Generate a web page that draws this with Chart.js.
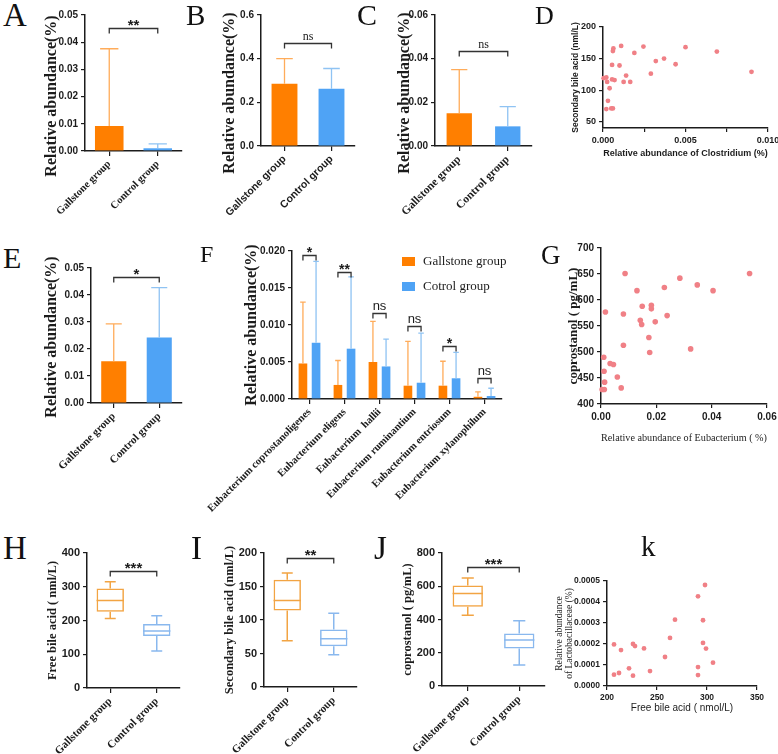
<!DOCTYPE html>
<html>
<head>
<meta charset="utf-8">
<script src="https://cdn.jsdelivr.net/npm/chart.js"></script>
<style>
  body { margin: 0; background: #fff; }
  #fig { position: relative; width: 778px; height: 754px; overflow: hidden; background: #fff; }
  #fig canvas { position: absolute; }
  .tag { position: absolute; font-family: "Liberation Serif", "Times New Roman", serif; line-height: 1; color: #111; }
</style>
</head>
<body>
<div id="fig"></div>
<script>
// ---- data ----
const groups = ["Gallstone group", "Control group"];

// A, B, C, E: bar + SD
const aMean = [0.0092, 0.0010];
const aErr = [0.0376, 0.0026];
const aTicks = [0, 0.01, 0.02, 0.03, 0.04, 0.05];
const aTickLabels = ["0.00", "0.01", "0.02", "0.03", "0.04", "0.05"];

const bMean = [0.285, 0.262];
const bErr = [0.400, 0.355];
const bTicks = [0, 0.2, 0.4, 0.6];
const bTickLabels = ["0.0", "0.2", "0.4", "0.6"];

const cMean = [0.015, 0.009];
const cErr = [0.035, 0.018];
const cTicks = [0, 0.02, 0.04, 0.06];
const cTickLabels = ["0.00", "0.02", "0.04", "0.06"];

const eMean = [0.0155, 0.0243];
const eErr = [0.0293, 0.0427];
const eTicks = [0, 0.01, 0.02, 0.03, 0.04, 0.05];
const eTickLabels = ["0.00", "0.01", "0.02", "0.03", "0.04", "0.05"];

// F: Eubacterium species
const fSpecies = ["Eubacterium coprostanoligenes", "Eubacterium eligens", "Eubacterium  hallii",
  "Eubacterium ruminantium", "Eubacterium entriosum", "Eubacterium xylanophilum"];
const fGall = [0.0048, 0.0019, 0.0050, 0.0018, 0.0018, 0.0003];
const fGallErr = [0.0131, 0.0052, 0.0105, 0.0078, 0.0051, 0.00095];
const fCtrl = [0.0076, 0.0068, 0.0044, 0.0022, 0.0028, 0.0004];
const fCtrlErr = [0.0186, 0.0165, 0.0081, 0.0089, 0.0063, 0.00145];
const fSig = ["*", "**", "ns", "ns", "*", "ns"];
const fSigY = [0.0195, 0.0172, 0.0116, 0.0099, 0.0072, 0.0028];
const fTicks = [0, 0.005, 0.010, 0.015, 0.020];
const fTickLabels = ["0.000", "0.005", "0.010", "0.015", "0.020"];

// D: Clostridium vs secondary bile acid
const dX = [0.00004, 0.0002, 0.00025, 0.0004, 0.0003, 0.0002, 0.0005, 0.0006, 0.00055, 0.0007, 0.00055,
  0.0006, 0.00063, 0.0011, 0.001, 0.00125, 0.0014, 0.00165, 0.0019, 0.00245, 0.0029, 0.0032, 0.0037,
  0.0044, 0.005, 0.0069, 0.009];
const dY = [119, 120, 113, 103, 83, 70, 71, 71, 117, 116, 140, 162, 166, 170, 139, 113, 123, 113, 159,
  169, 126, 146, 150, 141, 168, 161, 129];
const dXTicks = [0, 0.0025, 0.005, 0.0075, 0.01];
const dXTickLabels = ["0.000", "", "0.005", "", "0.010"];
const dYTicks = [50, 100, 150, 200];
const dYTickLabels = ["50", "100", "150", "200"];

// G: Eubacterium vs coprostanol
const gX = [0.0087, 0.0285, 0.0537, 0.013, 0.0229, 0.0348, 0.0405, 0.0016, 0.0081, 0.0149, 0.0182,
  0.0182, 0.0142, 0.0147, 0.0196, 0.0239, 0.0173, 0.0081, 0.0176, 0.0324, 0.001, 0.0011, 0.0013,
  0.0033, 0.0045, 0.0059, 0.0073, 0.0004, 0.0012];
const gY = [651, 642, 651, 618, 624, 629, 618, 577, 573, 588, 590, 583, 561, 553, 558, 570, 528, 513,
  499, 506, 490, 463, 442, 478, 476, 452, 431, 428, 428];
const gXTicks = [0, 0.02, 0.04, 0.06];
const gXTickLabels = ["0.00", "0.02", "0.04", "0.06"];
const gYTicks = [400, 450, 500, 550, 600, 650, 700];
const gYTickLabels = ["400", "450", "500", "550", "600", "650", "700"];

// H, I, J: box plots (min, q1, median, q3, max)
const hMin = [206, 110], hQ1 = [226, 154], hMed = [259, 169], hQ3 = [295, 190], hMax = [315, 214];
const hTicks = [0, 100, 200, 300, 400];
const iMin = [69, 48], iQ1 = [114, 61], iMed = [129, 72], iQ3 = [160, 86], iMax = [170, 110];
const iTicks = [0, 50, 100, 150, 200];
const jMin = [426, 126], jQ1 = [476, 226], jMed = [556, 276], jQ3 = [604, 316], jMax = [650, 392];
const jTicks = [0, 200, 400, 600, 800];

// K: free bile acid vs Lactobacillaceae
const kX = [207, 207, 212, 214, 222, 226, 228, 226, 237, 243, 258, 263, 268, 291, 291, 291, 296, 296,
  298, 299, 306];
const kY = [0.000198, 0.000054, 0.000062, 0.000171, 0.000084, 0.0002, 0.00019, 0.000049, 0.000179,
  0.000071, 0.000138, 0.000229, 0.000316, 0.00009, 0.000052, 0.000427, 0.000205, 0.000313, 0.000481,
  0.000178, 0.000111];
const kXTicks = [200, 250, 300, 350];
const kYTicks = [0, 0.0001, 0.0002, 0.0003, 0.0004, 0.0005];
const kYTickLabels = ["0.0000", "0.0001", "0.0002", "0.0003", "0.0004", "0.0005"];

// ---- styling ----
const SANS = '"Liberation Sans", Arial, sans-serif';
const SERIF = '"Liberation Serif", "Times New Roman", serif';
const INK = "#1c1c1c";
const orange = "#ff7f00", blue = "#4fa3f5";
const orangeErr = "#ffac5a", blueErr = "#8fc3f3";
const boxOrange = "#f2a443", boxBlue = "#89b8ee";
const dot = "#f08086";
const barCols = [orange, blue];
const errCols = [orangeErr, blueErr];
const boxCols = [boxOrange, boxBlue];

function fnt(family, size, weight, lineHeight) {
  return { family, size, weight: weight || "normal", lineHeight: lineHeight || 1.2 };
}
function fontStr(f) { return (f.weight === "bold" ? "bold " : "") + f.size + "px " + f.family; }

function valueAxis(min, max, ticks, labels, tickFont, title, titleFont) {
  return {
    type: "linear", min, max,
    afterBuildTicks: s => { s.ticks = ticks.map(v => ({ value: v })); },
    ticks: { callback: (v, i) => labels[i], font: tickFont, color: INK, padding: 3, autoSkip: false, maxRotation: 0 },
    grid: { drawOnChartArea: false, drawTicks: true, tickLength: 4, color: INK, lineWidth: 1.2 },
    border: { color: INK, width: 1.5 },
    title: { display: !!title, text: title || "", font: titleFont, color: INK }
  };
}

function groupAxis(tickFont) {
  return {
    type: "category", offset: true,
    grid: { offset: false, drawOnChartArea: false, drawTicks: true, tickLength: 5, color: INK, lineWidth: 1.2 },
    border: { color: INK, width: 1.5 },
    ticks: { font: tickFont, color: INK, minRotation: 45, maxRotation: 45, autoSkip: false, padding: 2 }
  };
}

// error bars above bars (dataset.errTop holds the upper end)
const errorBars = {
  id: "errorBars",
  afterDatasetsDraw(chart) {
    const ctx = chart.ctx, y = chart.scales.y;
    chart.data.datasets.forEach((ds, di) => {
      if (!ds.errTop) return;
      chart.getDatasetMeta(di).data.forEach((bar, i) => {
        const top = y.getPixelForValue(ds.errTop[i]);
        const half = bar.width * 0.32;
        ctx.save();
        ctx.strokeStyle = Array.isArray(ds.errColor) ? ds.errColor[i] : ds.errColor;
        ctx.lineWidth = 1.3;
        ctx.beginPath();
        ctx.moveTo(bar.x, bar.y); ctx.lineTo(bar.x, top);
        ctx.moveTo(bar.x - half, top); ctx.lineTo(bar.x + half, top);
        ctx.stroke();
        ctx.restore();
      });
    });
  }
};

// whiskers + median for floating-bar boxes
const boxWhiskers = {
  id: "boxWhiskers",
  afterDatasetsDraw(chart) {
    const ctx = chart.ctx, y = chart.scales.y;
    chart.data.datasets.forEach((ds, di) => {
      if (!ds.boxMed) return;
      chart.getDatasetMeta(di).data.forEach((bar, i) => {
        const [q1, q3] = ds.data[i];
        const x = bar.x, w = bar.width, cap = w * 0.2;
        const pMin = y.getPixelForValue(ds.boxMin[i]), pMax = y.getPixelForValue(ds.boxMax[i]);
        const pMed = y.getPixelForValue(ds.boxMed[i]);
        ctx.save();
        ctx.strokeStyle = ds.borderColor[i];
        ctx.lineWidth = 1.5;
        ctx.beginPath();
        ctx.moveTo(x - w / 2, pMed); ctx.lineTo(x + w / 2, pMed);
        ctx.moveTo(x, y.getPixelForValue(q3)); ctx.lineTo(x, pMax);
        ctx.moveTo(x - cap, pMax); ctx.lineTo(x + cap, pMax);
        ctx.moveTo(x, y.getPixelForValue(q1)); ctx.lineTo(x, pMin);
        ctx.moveTo(x - cap, pMin); ctx.lineTo(x + cap, pMin);
        ctx.stroke();
        ctx.restore();
      });
    });
  }
};
Chart.register(errorBars, boxWhiskers);

// significance brackets
function sigMarks(items) {
  return {
    id: "sigMarks",
    afterDraw(chart) {
      const ctx = chart.ctx, y = chart.scales.y;
      items.forEach(it => {
        const x1 = chart.getDatasetMeta(it.a[0]).data[it.a[1]].x;
        const x2 = chart.getDatasetMeta(it.b[0]).data[it.b[1]].x;
        const py = Math.round(y.getPixelForValue(it.y)) + 0.5;
        ctx.save();
        ctx.strokeStyle = "#333"; ctx.lineWidth = 1.3;
        ctx.beginPath();
        ctx.moveTo(x1, py + 5); ctx.lineTo(x1, py); ctx.lineTo(x2, py); ctx.lineTo(x2, py + 5);
        ctx.stroke();
        ctx.fillStyle = INK; ctx.font = it.font; ctx.textAlign = "center"; ctx.textBaseline = "alphabetic";
        ctx.fillText(it.text, (x1 + x2) / 2, it.text === "ns" ? py - 4 : py + 1);
        ctx.restore();
      });
    }
  };
}
const STAR = "bold 15px " + SANS;
const NS_SERIF = "12px " + SERIF;
const NS_SANS = "13px " + SANS;

const fig = document.getElementById("fig");

// box = canvas [left, top, width, height]; area = plot area [left, top, right, bottom] (page px)
// titles: yX = centre x of y title, yC = centre y of y title (optional), xY = centre y of x title
function panel(box, area, titles, config) {
  const [bx, by, bw, bh] = box;
  const [al, at, ar, ab] = area;
  const cv = document.createElement("canvas");
  cv.width = bw; cv.height = bh;
  cv.style.left = bx + "px"; cv.style.top = by + "px";
  cv.style.width = bw + "px"; cv.style.height = bh + "px";
  fig.appendChild(cv);
  const o = config.options;
  o.responsive = false; o.animation = false; o.events = [];
  o.layout = { padding: { left: 0, top: at - by, right: bx + bw - ar, bottom: 0 } };
  o.plugins = Object.assign({ legend: { display: false }, tooltip: { enabled: false } }, o.plugins || {});
  const xs = o.scales.x, ys = o.scales.y;
  xs.afterFit = s => { s.height = by + bh - ab; s.paddingLeft = 0; s.paddingRight = 0; };
  ys.afterFit = s => { s.width = al - bx; s.paddingTop = 0; s.paddingBottom = 0; };
  config.plugins = config.plugins || [];
  if (titles.yC != null) {
    const t = ys.title;
    t.display = false;
    config.plugins.push({
      id: "sideTitle",
      afterDraw(chart) {
        const ctx = chart.ctx;
        ctx.save();
        ctx.translate(titles.yX - bx, titles.yC - by);
        ctx.rotate(-Math.PI / 2);
        ctx.font = fontStr(t.font); ctx.fillStyle = INK;
        ctx.textAlign = "center"; ctx.textBaseline = "middle";
        ctx.fillText(t.text, 0, 0);
        ctx.restore();
      }
    });
  } else if (titles.yX != null) {
    const f = ys.title.font;
    ys.title.padding = { top: titles.yX - bx - f.size * f.lineHeight / 2, bottom: 0 };
  }
  if (titles.xY != null) {
    const f = xs.title.font;
    xs.title.padding = { top: 0, bottom: by + bh - titles.xY - f.size * f.lineHeight / 2 };
  }
  return new Chart(cv, config);
}

function barPanel(box, area, titlePos, mean, err, ticks, labels, sigY, sigText, xFont, catPct) {
  return panel(box, area, titlePos, {
    type: "bar",
    data: {
      labels: groups,
      datasets: [{ data: mean, errTop: err, errColor: errCols, backgroundColor: barCols,
        categoryPercentage: catPct, barPercentage: 0.95 }]
    },
    options: {
      scales: {
        x: groupAxis(xFont),
        y: valueAxis(ticks[0], ticks[ticks.length - 1], ticks, labels, fnt(SANS, 10, "bold"),
          "Relative abundance(%)", fnt(SERIF, 16, "bold"))
      }
    },
    plugins: [sigMarks([{ a: [0, 0], b: [0, 1], y: sigY, text: sigText,
      font: sigText === "ns" ? NS_SERIF : STAR }])]
  });
}

function boxPanel(box, area, yX, mn, q1, med, q3, mx, ticks, title, sigY, sigText) {
  return panel(box, area, { yX }, {
    type: "bar",
    data: {
      labels: groups,
      datasets: [{ data: q1.map((v, i) => [v, q3[i]]), boxMin: mn, boxMed: med, boxMax: mx,
        backgroundColor: "rgba(255,255,255,0)", borderColor: boxCols, borderWidth: 1.5,
        borderSkipped: false, categoryPercentage: 0.62, barPercentage: 0.95 }]
    },
    options: {
      scales: {
        x: groupAxis(fnt(SERIF, 11, "bold")),
        y: valueAxis(ticks[0], ticks[ticks.length - 1], ticks, ticks.map(String), fnt(SANS, 11, "bold"),
          title, fnt(SERIF, 12.5, "bold"))
      }
    },
    plugins: [sigMarks([{ a: [0, 0], b: [0, 1], y: sigY, text: sigText, font: STAR }])]
  });
}

function scatterPanel(box, area, titles, xs, ys, radius, xAxis, yAxis) {
  return panel(box, area, titles, {
    type: "scatter",
    data: { datasets: [{ data: xs.map((x, i) => ({ x, y: ys[i] })), pointRadius: radius,
      backgroundColor: dot, borderWidth: 0, clip: false }] },
    options: { scales: { x: xAxis, y: yAxis } }
  });
}

// A
barPanel([40, 0, 150, 215], [85, 15, 182, 151], { yX: 52, yC: 96 }, aMean, aErr, aTicks, aTickLabels,
  0.0452, "**", fnt(SERIF, 10.5, "bold"), 0.62);
// B
barPanel([215, 0, 155, 215], [261, 15, 355, 146], { yX: 230, yC: 93 }, bMean, bErr, bTicks, bTickLabels,
  0.472, "ns", fnt(SANS, 10.5, "bold"), 0.58);
// C
barPanel([390, 0, 160, 215], [435, 15, 532, 146], { yX: 405, yC: 93 }, cMean, cErr, cTicks, cTickLabels,
  0.0435, "ns", fnt(SERIF, 11.5, "bold"), 0.55);
// E
barPanel([35, 245, 155, 230], [91, 268, 182, 403], { yX: 52, yC: 337 }, eMean, eErr, eTicks, eTickLabels,
  0.0467, "*", fnt(SERIF, 11, "bold"), 0.58);

// D
scatterPanel([565, 5, 213, 155], [603, 27, 768, 128], { yX: 576, xY: 154 }, dX, dY, 2.4,
  valueAxis(0, 0.01, dXTicks, dXTickLabels, fnt(SANS, 9, "bold"),
    "Relative abundance of Clostridium (%)", fnt(SANS, 9, "bold")),
  valueAxis(40, 200, dYTicks, dYTickLabels, fnt(SANS, 9, "bold"),
    "Secondary bile acid (nml/L)", fnt(SANS, 8.5, "bold")));

// F
panel([195, 230, 330, 300], [292, 251, 502, 399], { yX: 252 }, {
  type: "bar",
  data: {
    labels: fSpecies,
    datasets: [
      { label: "Gallstone group", data: fGall, errTop: fGallErr, errColor: orangeErr,
        backgroundColor: orange, categoryPercentage: 0.75, barPercentage: 0.66 },
      { label: "Cotrol group", data: fCtrl, errTop: fCtrlErr, errColor: blueErr,
        backgroundColor: blue, categoryPercentage: 0.75, barPercentage: 0.66 }
    ]
  },
  options: {
    scales: {
      x: groupAxis(fnt(SERIF, 10.5, "bold")),
      y: valueAxis(0, 0.02, fTicks, fTickLabels, fnt(SANS, 10, "bold"),
        "Relative abundance(%)", fnt(SERIF, 16, "bold"))
    }
  },
  plugins: [
    sigMarks(fSig.map((t, i) => ({ a: [0, i], b: [1, i], y: fSigY[i], text: t,
      font: t === "ns" ? NS_SANS : "bold 14px " + SANS }))),
    {
      id: "fLegend",
      afterDraw(chart) {
        const ctx = chart.ctx, a = chart.chartArea;
        chart.data.datasets.forEach((ds, i) => {
          const x = a.left + 110, y = a.top + 6 + i * 25;
          ctx.save();
          ctx.fillStyle = ds.backgroundColor;
          ctx.fillRect(x, y, 13, 9);
          ctx.fillStyle = INK; ctx.font = "13px " + SERIF; ctx.textBaseline = "middle";
          ctx.fillText(ds.label, x + 21, y + 5);
          ctx.restore();
        });
      }
    }
  ]
});

// G
scatterPanel([525, 235, 253, 215], [601, 248, 767, 404], { yX: 574, xY: 438 }, gX, gY, 2.8,
  valueAxis(0, 0.06, gXTicks, gXTickLabels, fnt(SANS, 10, "bold"),
    "Relative abundance of Eubacterium ( %)", fnt(SERIF, 10.5)),
  valueAxis(400, 700, gYTicks, gYTickLabels, fnt(SANS, 10, "bold"),
    "coprostanol ( pg/mL)", fnt(SERIF, 13, "bold")));

// H, I, J
boxPanel([30, 540, 160, 214], [87, 553, 180, 688], 53, hMin, hQ1, hMed, hQ3, hMax, hTicks,
  "Free bile acid ( nml/L)", 347, "***");
boxPanel([200, 540, 170, 214], [264, 553, 357, 687], 230, iMin, iQ1, iMed, iQ3, iMax, iTicks,
  "Secondary bile acid (nml/L)", 193, "**");
boxPanel([385, 540, 170, 214], [442, 553, 545, 686], 408, jMin, jQ1, jMed, jQ3, jMax, jTicks,
  "coprostanol ( pg/mL)", 714, "***");

// K
scatterPanel([550, 565, 228, 160], [607, 581, 757, 686], { yX: 559, xY: 708 }, kX, kY, 2.4,
  valueAxis(200, 350, kXTicks, kXTicks.map(String), fnt(SANS, 8.5, "bold"),
    "Free bile acid ( nmol/L)", fnt(SANS, 10)),
  valueAxis(0, 0.0005, kYTicks, kYTickLabels, fnt(SANS, 8.5, "bold"),
    ["Relative abundance", "of Lactobacillaceae (%)"], fnt(SERIF, 9.5, "normal", 1.15)));

// panel letters
const tags = [
  ["A", 3, 27, 33], ["B", 186, 25, 29], ["C", 357, 25, 30], ["D", 535, 25, 26],
  ["E", 3, 268, 30], ["F", 200, 262, 24], ["G", 541, 265, 27],
  ["H", 3, 560, 33], ["I", 191, 560, 33], ["J", 374, 560, 33], ["k", 641, 556, 29]
];
tags.forEach(([t, x, base, size]) => {
  const d = document.createElement("div");
  d.className = "tag";
  d.textContent = t;
  d.style.left = x + "px";
  d.style.top = (base - 0.8375 * size) + "px";
  d.style.fontSize = size + "px";
  fig.appendChild(d);
});
</script>
</body>
</html>
